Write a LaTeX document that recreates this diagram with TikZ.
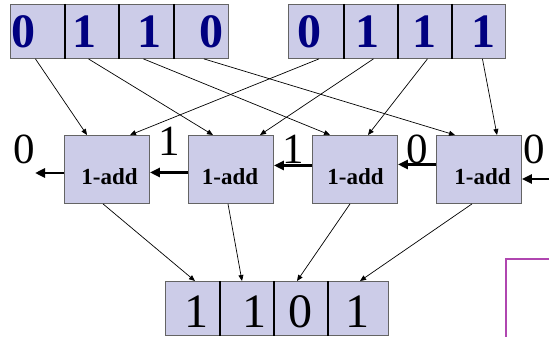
\documentclass[tikz,border=0pt]{standalone}
\usepackage{fontspec}
\setmainfont{Liberation Serif}
\usetikzlibrary{arrows.meta}
\definecolor{cellfill}{RGB}{204,204,232}
\definecolor{cellline}{RGB}{100,100,100}
\definecolor{navybit}{RGB}{0,0,128}
\definecolor{pinkline}{RGB}{176,70,176}
\tikzset{
  cell/.style={draw=cellline, fill=cellfill, line width=0.9pt, minimum width=54pt, minimum height=54pt, inner sep=0pt, anchor=north west},
  adder/.style={draw=cellline, fill=cellfill, line width=0.9pt, minimum width=85pt, minimum height=68pt, inner sep=0pt, anchor=north west},
  divider/.style={black, line width=1.6pt},
  topbit/.style={anchor=base, inner sep=0pt, text=navybit, font=\fontsize{48}{48}\selectfont\bfseries},
  outbit/.style={anchor=base, inner sep=0pt, font=\fontsize{48}{48}\selectfont},
  carrybit/.style={anchor=base, inner sep=0pt, font=\fontsize{43}{43}\selectfont},
  addlabel/.style={anchor=base, inner sep=0pt, font=\fontsize{23}{23}\selectfont\bfseries},
  wire/.style={-{Triangle[length=6pt,width=5pt]}, line width=0.7pt},
  carry/.style={-{Triangle[length=10pt,width=9pt]}, line width=2.6pt},
}
\begin{document}
\begin{tikzpicture}[x=1pt,y=-1pt]
\useasboundingbox (0,0) rectangle (549,337);
% top-left register
\node[cell] (l1) at (10,4) {};
\node[cell] (l2) at (64,4) {};
\node[cell] (l3) at (119,4) {};
\node[cell, minimum width=55pt] (l4) at (173,4) {};
\draw[divider] (l1.north east) -- (l1.south east);
\draw[divider] (l2.north east) -- (l2.south east);
\draw[divider] (l3.north east) -- (l3.south east);
\node[topbit] (tl1) at (23,48) {0};
\node[topbit] (tl2) at (84,48) {1};
\node[topbit] (tl3) at (149,48) {1};
\node[topbit] (tl4) at (211,48) {0};
% top-right register
\node[cell, minimum width=55pt] (r1) at (288,4) {};
\node[cell] (r2) at (343,4) {};
\node[cell] (r3) at (397,4) {};
\node[cell] (r4) at (451,4) {};
\draw[divider] (r1.north east) -- (r1.south east);
\draw[divider] (r2.north east) -- (r2.south east);
\draw[divider] (r3.north east) -- (r3.south east);
\node[topbit] (tr1) at (309,48) {0};
\node[topbit] (tr2) at (367,48) {1};
\node[topbit] (tr3) at (424,48) {1};
\node[topbit] (tr4) at (483,48) {1};
% adders
\node[adder] (b1) at (64,135) {};
\node[adder] (b2) at (188,135) {};
\node[adder] (b3) at (312,135) {};
\node[adder] (b4) at (436,135) {};
\node[addlabel] (a1) at (109.5,184) {1-add};
\node[addlabel] (a2) at (230,184) {1-add};
\node[addlabel] (a3) at (355.5,184) {1-add};
\node[addlabel] (a4) at (482.5,184) {1-add};
% output register
\node[cell] (o1) at (165,281) {};
\node[cell] (o2) at (219,281) {};
\node[cell] (o3) at (273,281) {};
\node[cell, minimum width=61pt] (o4) at (327,281) {};
\draw[divider] (o1.north east) -- (o1.south east);
\draw[divider] (o2.north east) -- (o2.south east);
\draw[divider] (o3.north east) -- (o3.south east);
\node[outbit] (ob1) at (196,327) {1};
\node[outbit] (ob2) at (254,327) {1};
\node[outbit] (ob3) at (300,327) {0};
\node[outbit] (ob4) at (357,327) {1};
% carry labels
\node[carrybit] (c0) at (24,163) {0};
\node[carrybit] (c1) at (169.5,155) {1};
\node[carrybit] (c2) at (293.5,163) {1};
\node[carrybit] (c3) at (417.5,163) {0};
\node[carrybit] (c4) at (534,163) {0};
% input wires
\draw[wire] ([xshift=-2pt]l1.south) -- ([xshift=23pt]b1.north west);
\draw[wire] ([xshift=3pt]r1.south) -- ([xshift=66pt]b1.north west);
\draw[wire] ([xshift=-3pt]l2.south) -- ([xshift=25pt]b2.north west);
\draw[wire] ([xshift=3pt]r2.south) -- ([xshift=72pt]b2.north west);
\draw[wire] ([xshift=-3pt]l3.south) -- ([xshift=18pt]b3.north west);
\draw[wire] ([xshift=3pt]r3.south) -- ([xshift=56pt]b3.north west);
\draw[wire] ([xshift=3pt]l4.south) -- ([xshift=19pt]b4.north west);
\draw[wire] ([xshift=4pt]r4.south) -- ([xshift=61pt]b4.north west);
% output wires
\draw[wire] ([xshift=39pt]b1.south west) -- ([xshift=30pt]o1.north west);
\draw[wire] ([xshift=40pt]b2.south west) -- ([xshift=23pt]o2.north west);
\draw[wire] ([xshift=38pt]b3.south west) -- ([xshift=24pt]o3.north west);
\draw[wire] ([xshift=36pt]b4.south west) -- ([xshift=33pt]o4.north west);
% carries
\coordinate (cin) at (551,179);
\coordinate (cout) at (35,173);
\draw[carry] (b1.west |- cout) -- (cout);
\draw[carry] ([yshift=-3pt]b2.west) -- ([yshift=-3pt]b1.east);
\draw[carry] ([yshift=4pt]b3.west) -- ([yshift=4pt]b2.east);
\draw[carry] ([yshift=5pt]b4.west) -- ([yshift=5pt]b3.east);
\draw[carry] (cin) -- (b4.east |- cin);
% partial frame
\draw[pinkline, line width=1.5pt] (506,339) -- (506,259) -- (551,259);
\end{tikzpicture}
\end{document}
